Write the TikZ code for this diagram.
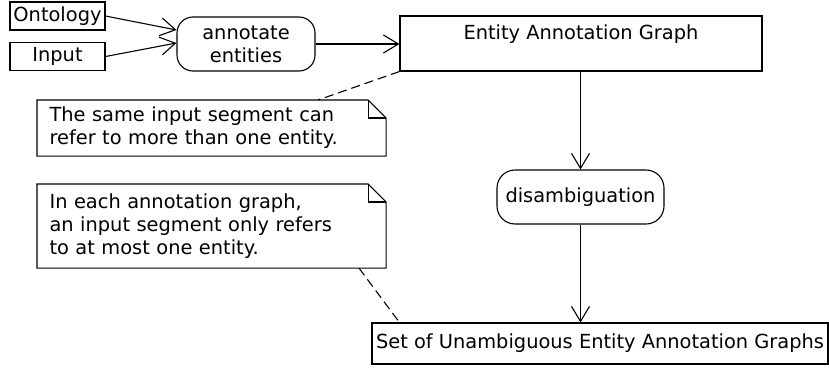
\documentclass[tikz,border=0pt]{standalone}
\usepackage{fontspec}
\setmainfont{DejaVu Sans}
\usetikzlibrary{arrows.meta,calc}

% folded-corner outline around a note node
\newcommand\notefold[1]{%
  \draw (#1.north west) -- ([xshift=-18pt]#1.north east)
        -- ([yshift=-18pt]#1.north east) -- (#1.south east)
        -- (#1.south west) -- cycle;
  \draw ([xshift=-18pt]#1.north east) |- ([yshift=-18pt]#1.north east);}

\begin{document}
\begin{tikzpicture}[x=1pt,y=-1pt,line width=1.1pt,
  every node/.style={font=\fontsize{19.4}{23}\selectfont},
  box/.style={draw, rectangle, inner sep=2pt},
  action/.style={draw, rounded corners=16pt, align=center,
                 minimum width=138pt, minimum height=54pt, inner sep=2pt},
  notebox/.style={anchor=north west, align=left, text width=324pt,
                  inner xsep=12pt, inner ysep=2pt},
  flow/.style={-{Straight Barb[length=15pt,width=18pt]}},
  link/.style={dash pattern=on 9pt off 5pt}]
\useasboundingbox (0,0) rectangle (829,367);

% inputs and first action
\node[box, minimum width=95pt, minimum height=28pt] (ont) at (57.5,16) {Ontology};
\node[box, minimum width=95pt, minimum height=28pt] (inp) at (57.5,56.5) {Input};
\node[action] (ann) at (246,44) {annotate\\entities};

% intermediate and final graphs
\node[box, minimum width=362pt, minimum height=55pt, align=center] (eag)
  at (581,43.5) {Entity Annotation Graph\\\mbox{}};
\node[action, minimum width=167pt, rounded corners=18pt] (dis)
  at (580.5,197) {disambiguation};
\node[box, minimum width=456pt, minimum height=41pt] (set)
  at (600,343.5) {Set of Unambiguous Entity Annotation Graphs};

% notes
\node[notebox, minimum height=55pt] (n1) at (37,100)
  {The same input segment can\\refer to more than one entity.};
\node[notebox, minimum height=83pt] (n2) at (37,184)
  {In each annotation graph,\\an input segment only refers\\to at most one entity.};
\notefold{n1}
\notefold{n2}

% control flow
\draw[flow] (ont.east) -- ([yshift=14pt]ann.west);
\draw[flow] (inp.east) -- ([yshift=1pt]ann.west);
\draw[flow] (ann.east) -- (ann.east -| eag.west);
\draw[flow] (eag.south -| dis.north) -- (dis.north);
\draw[flow] (dis.south) -- (dis.south |- set.north);

% note attachments
\draw[link] (eag.south west) -- ([xshift=281pt]n1.north west);
\draw[link] ([xshift=322pt]n2.south west) -- ([xshift=28pt]set.north west);
\end{tikzpicture}
\end{document}
